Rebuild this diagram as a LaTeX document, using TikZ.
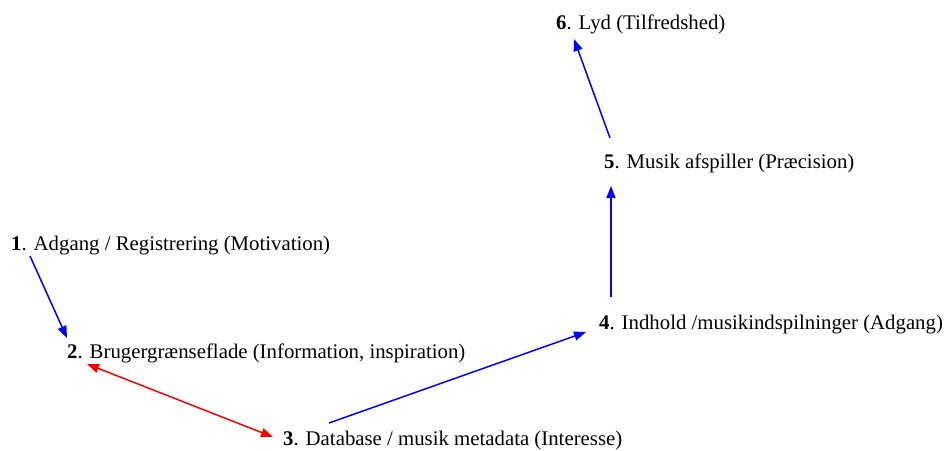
\documentclass[tikz,border=0pt]{standalone}
\usepackage{fontspec}
\setmainfont{Liberation Serif}
\usetikzlibrary{arrows.meta}
\tikzset{
  lbl/.style={anchor=base west, inner sep=0pt, font=\fontsize{20.8}{24}\selectfont},
  conn/.style={line width=1.5pt, -{Triangle[length=12pt,width=9pt]}},
  bconn/.style={line width=1.5pt, {Triangle[length=12pt,width=9pt]}-{Triangle[length=12pt,width=9pt]}},
}
\begin{document}
\begin{tikzpicture}[x=1pt,y=-1pt]
\useasboundingbox (0,0) rectangle (944,450);
\node[lbl] (n1) at (11,250) {\textbf{1}. Adgang / Registrering (Motivation)};
\node[lbl] (n2) at (67,358) {\textbf{2}. Brugergrænseflade (Information, inspiration)};
\node[lbl] (n3) at (283,445) {\textbf{3}. Database / musik metadata (Interesse)};
\node[lbl] (n4) at (599,329) {\textbf{4}. Indhold /musikindspilninger (Adgang)};
\node[lbl] (n5) at (604,168) {\textbf{5}. Musik afspiller (Præcision)};
\node[lbl] (n6) at (556,29) {\textbf{6}. Lyd (Tilfredshed)};
\coordinate (c1s) at (30,256);
\coordinate (c2t) at (67,338);
\coordinate (c2s) at (87,364);
\coordinate (c3t) at (273,437);
\coordinate (c3s) at (329,423);
\coordinate (c4t) at (586,332);
\coordinate (c4s) at (611,297);
\coordinate (c5t) at (611,186);
\coordinate (c5s) at (610,138);
\coordinate (c6t) at (574,39);
\draw[conn, blue] (c1s) -- (c2t);
\draw[bconn, red] (c2s) -- (c3t);
\draw[conn, blue] (c3s) -- (c4t);
\draw[conn, blue] (c4s) -- (c5t);
\draw[conn, blue] (c5s) -- (c6t);
\end{tikzpicture}
\end{document}
